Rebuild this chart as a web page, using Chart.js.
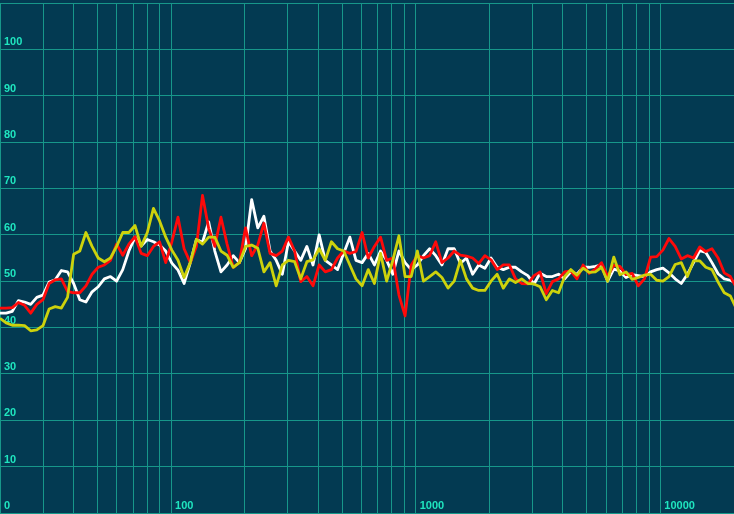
<!DOCTYPE html>
<html><head><meta charset="utf-8">
<script src="https://cdn.jsdelivr.net/npm/chart.js@4/dist/chart.umd.min.js"></script>
<style>html,body{margin:0;padding:0;background:#033a52;overflow:hidden}canvas{display:block}</style>
</head><body>
<canvas id="c" width="734" height="514"></canvas>
<script>
// Frequencies (Hz), 1/12-octave points
const freqs = [
  20, 21.19, 22.45, 23.78, 25.2, 26.7, 28.28, 29.97, 31.75, 33.64, 35.64, 37.76,
  40, 42.38, 44.9, 47.57, 50.4, 53.39, 56.57, 59.93, 63.5, 67.27, 71.27, 75.51,
  80, 84.76, 89.8, 95.14, 100.8, 106.8, 113.1, 119.9, 127, 134.5, 142.5, 151,
  160, 169.5, 179.6, 190.3, 201.6, 213.6, 226.3, 239.7, 254, 269.1, 285.1, 302,
  320, 339, 359.2, 380.5, 403.2, 427.1, 452.5, 479.5, 508, 538.2, 570.2, 604.1,
  640, 678.1, 718.4, 761.1, 806.3, 854.3, 905.1, 958.9, 1016, 1076, 1140, 1208,
  1280, 1356, 1437, 1522, 1613, 1709, 1810, 1918, 2032, 2153, 2281, 2416,
  2560, 2712, 2874, 3044, 3225, 3417, 3620, 3836, 4064, 4305, 4561, 4833,
  5120, 5424, 5747, 6089, 6451, 6834, 7241, 7671, 8127, 8611, 9123, 9665,
  10240, 10849, 11494, 12177, 12902, 13669, 14482, 15343, 16255, 17222, 18246, 19331,
  20480
];

const white = [
  43.1, 43.1, 43.5, 45.8, 45.5, 45.0, 46.5, 47.0, 49.8, 50.3, 52.3, 52.0,
  49.5, 46.0, 45.5, 47.7, 48.8, 50.5, 51.0, 50.0, 52.5, 56.5, 59.5, 57.6,
  59.0, 58.5, 57.8, 56.5, 53.9, 52.4, 49.5, 54.0, 59.0, 58.4, 62.8, 56.5,
  52.0, 53.5, 55.5, 54.0, 57.0, 67.6, 61.5, 64.0, 56.5, 54.5, 51.5, 58.5,
  56.5, 54.5, 57.5, 53.5, 60.0, 54.5, 53.5, 52.5, 56.0, 59.5, 54.5, 54.0,
  56.0, 53.5, 56.5, 54.5, 51.5, 56.5, 54.0, 52.5, 53.5, 55.5, 57.0, 55.5,
  53.5, 57.0, 57.0, 53.8, 55.0, 51.5, 53.5, 52.8, 55.0, 53.0, 52.5, 53.0,
  53.0, 52.0, 51.2, 49.4, 51.7, 51.0, 51.0, 51.5, 50.5, 52.0, 51.5, 53.0,
  53.0, 53.2, 53.5, 50.0, 52.6, 52.2, 50.8, 51.4, 51.2, 51.0, 52.0, 52.5,
  52.8, 51.8, 50.5, 49.5, 51.5, 54.0, 56.6, 56.2, 54.0, 51.6, 50.5, 50.2,
  49.5
];

const red = [
  44.2, 44.2, 44.3, 45.4, 44.8, 43.1, 45.0, 46.0, 49.5, 50.3, 50.5, 47.8,
  47.5, 47.5, 49.0, 51.5, 53.0, 53.5, 54.5, 58.0, 55.6, 58.0, 59.6, 56.0,
  55.5, 57.5, 58.5, 54.0, 58.5, 63.8, 57.0, 54.0, 57.5, 68.5, 61.4, 57.5,
  63.8, 58.0, 53.0, 54.0, 61.5, 55.5, 57.8, 62.5, 56.0, 55.5, 56.5, 59.5,
  56.5, 49.9, 51.0, 49.0, 53.5, 52.0, 52.5, 55.0, 56.5, 56.0, 56.4, 60.5,
  55.0, 57.5, 59.5, 54.5, 55.0, 47.0, 42.5, 53.5, 55.5, 55.0, 55.5, 58.5,
  54.0, 55.0, 56.5, 55.6, 55.4, 55.0, 53.8, 55.5, 54.6, 52.5, 53.5, 53.5,
  50.5, 49.5, 49.4, 51.2, 52.0, 47.3, 49.9, 50.5, 52.0, 52.2, 50.5, 53.5,
  51.7, 52.6, 54.0, 51.0, 53.4, 53.2, 51.4, 51.7, 49.0, 50.5, 55.2, 55.3,
  56.7, 59.2, 57.5, 54.8, 55.5, 55.0, 57.4, 56.4, 57.0, 55.0, 51.8, 51.0,
  48.5
];

const yellow = [
  42.0, 41.0, 40.5, 40.5, 40.4, 39.3, 39.5, 40.4, 44.0, 44.5, 44.2, 46.5,
  55.8, 56.5, 60.5, 57.5, 55.0, 54.2, 55.0, 57.5, 60.5, 60.5, 62.0, 57.5,
  60.5, 65.7, 63.0, 59.5, 56.7, 54.5, 50.8, 54.0, 59.0, 58.0, 59.5, 59.5,
  56.5, 55.6, 53.0, 54.0, 57.5, 57.8, 57.1, 52.0, 54.0, 49.0, 53.5, 54.5,
  54.2, 50.5, 54.2, 54.6, 57.0, 54.5, 58.5, 57.0, 56.5, 53.5, 50.5, 49.0,
  52.5, 49.5, 56.0, 50.0, 54.5, 59.8, 51.0, 51.0, 56.5, 50.0, 51.0, 52.0,
  50.8, 48.5, 50.0, 54.5, 50.5, 48.5, 48.0, 48.0, 50.0, 51.5, 48.5, 50.5,
  49.7, 50.5, 49.5, 49.4, 48.8, 46.0, 48.0, 47.5, 51.0, 52.5, 51.3, 52.8,
  51.9, 52.0, 53.0, 50.0, 55.2, 51.4, 52.0, 50.4, 50.8, 51.3, 51.5, 50.2,
  50.0, 51.0, 53.6, 54.0, 51.0, 54.4, 54.4, 53.0, 52.5, 49.8, 47.5, 46.8,
  44.0
];

// Axis grid values and tick labels
const xGridValues = [20,30,40,50,60,70,80,90,100,200,300,400,500,600,700,800,900,
  1000,2000,3000,4000,5000,6000,7000,8000,9000,10000,20000];
const xTickLabels = [100, 1000, 10000];
const yTickValues = [0,10,20,30,40,50,60,70,80,90,100,110];

const BG = '#033a52';
const GRID = '#17978a';
const TXT = '#1fe5bf';
const FONT = {family: "'Liberation Sans', Arial, sans-serif", size: 11, weight: 'bold', lineHeight: 1.2};

const bgPlugin = {
  id: 'bg',
  beforeDraw(chart) {
    const c = chart.ctx;
    c.save();
    c.fillStyle = BG;
    c.fillRect(0, 0, chart.width, chart.height);
    c.restore();
  }
};

function series(vals) { return freqs.map((f, i) => ({x: f, y: vals[i]})); }
function zeroPad(s) { s.paddingTop = 0; s.paddingBottom = 0; s.paddingLeft = 0; s.paddingRight = 0; }

new Chart(document.getElementById('c'), {
  type: 'line',
  data: {
    datasets: [
      {label: 'Yellow', data: series(yellow), borderColor: '#cdd20c', borderWidth: 2.8},
      {label: 'Red', data: series(red), borderColor: '#ff0a0a', borderWidth: 2.8},
      {label: 'White', data: series(white), borderColor: '#ffffff', borderWidth: 2.8}
    ]
  },
  options: {
    responsive: false,
    animation: false,
    devicePixelRatio: 1,
    layout: {padding: {top: 3, bottom: 1, left: 0, right: 0}},
    plugins: {legend: {display: false}, tooltip: {enabled: false}},
    elements: {point: {radius: 0}, line: {tension: 0, borderJoinStyle: 'round', fill: false}},
    scales: {
      x: {
        type: 'logarithmic', min: 20, max: 20000, position: 'bottom',
        afterBuildTicks(s) { s.ticks = xGridValues.map(v => ({value: v})); },
        afterFit(s) { s.height = 0; zeroPad(s); },
        grid: {color: GRID, lineWidth: 1, drawTicks: false},
        border: {display: false},
        ticks: {
          autoSkip: false, maxRotation: 0, minRotation: 0, mirror: true, padding: 0,
          align: 'start', labelOffset: 4, color: TXT, font: FONT,
          callback: (v) => xTickLabels.includes(v) ? String(v) : ''
        }
      },
      y: {
        type: 'linear', min: 0, max: 110, position: 'left',
        afterBuildTicks(s) { s.ticks = yTickValues.map(v => ({value: v})); },
        afterFit(s) { s.width = 0; zeroPad(s); },
        grid: {color: GRID, lineWidth: 1, drawTicks: false},
        border: {display: false},
        ticks: {
          autoSkip: false, mirror: true, padding: 4, labelOffset: -7,
          color: TXT, font: FONT,
          callback: (v) => String(v)
        }
      }
    }
  },
  plugins: [bgPlugin]
});
</script>
</body></html>
